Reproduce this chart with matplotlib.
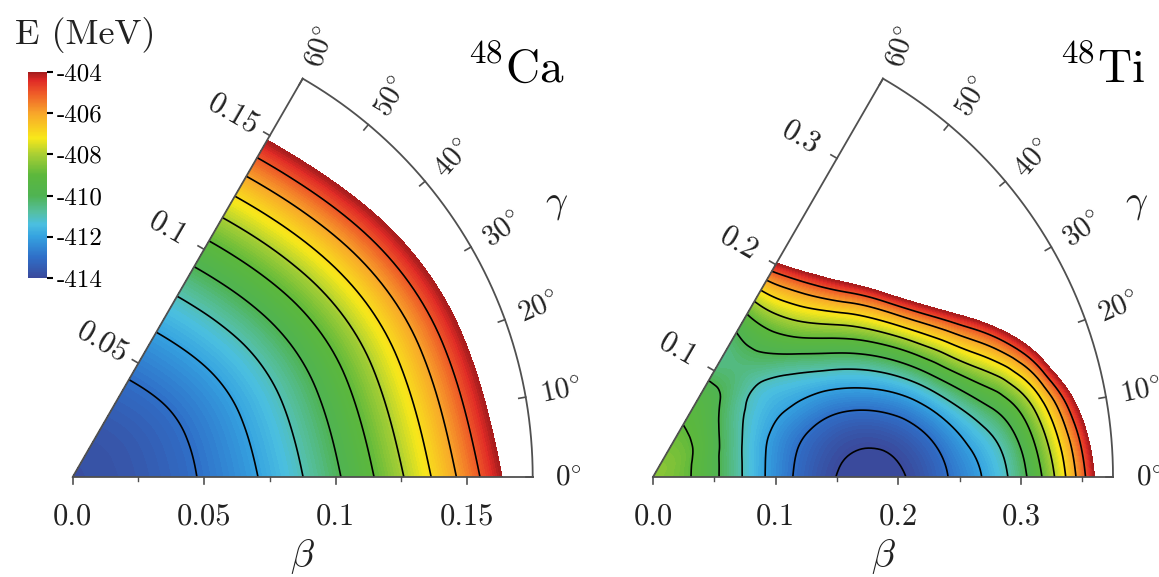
import numpy as np
import matplotlib.pyplot as plt
from matplotlib.colors import LinearSegmentedColormap, Normalize
from matplotlib.cm import ScalarMappable
from matplotlib.tri import Triangulation, UniformTriRefiner, CubicTriInterpolator

plt.rcParams['mathtext.fontset'] = 'cm'

# energy surfaces E(beta, gamma) in MeV, one row per gamma
ca_beta = [0.025, 0.05, 0.075, 0.1, 0.125, 0.15, 0.175]
ca_gamma = [0, 20, 40, 60]
ca_e0 = -413.82
ca_energy = [
    [-413.59, -412.90, -411.76, -410.15, -408.09, -405.56, -402.58],
    [-413.57, -412.84, -411.60, -409.88, -407.66, -404.96, -401.75],
    [-413.56, -412.77, -411.45, -409.61, -407.24, -404.35, -400.93],
    [-413.54, -412.70, -411.30, -409.34, -406.82, -403.74, -400.10],
]

ti_beta = [0.04, 0.08, 0.12, 0.16, 0.20, 0.24, 0.28, 0.32, 0.36, 0.40]
ti_gamma = [0, 10, 20, 30, 40, 50, 60]
ti_e0 = -408.5
ti_energy = [
    [-409.35, -411.40, -413.22, -414.16, -414.11, -413.02, -411.48, -408.73, -404.00, -398.0],
    [-409.32, -411.34, -413.03, -413.82, -413.59, -412.27, -410.42, -407.59, -402.50, -396.5],
    [-409.23, -411.14, -412.50, -412.87, -412.14, -410.16, -407.46, -404.12, -398.00, -393.0],
    [-409.08, -410.81, -411.77, -411.42, -409.99, -407.11, -403.15, -398.50, -394.00, -390.0],
    [-408.96, -410.38, -411.08, -409.82, -407.55, -403.60, -398.10, -394.00, -390.00, -387.0],
    [-408.89, -409.86, -410.39, -408.63, -405.46, -400.70, -396.00, -392.00, -389.00, -386.0],
    [-408.85, -409.65, -410.50, -408.47, -404.20, -399.00, -395.00, -391.00, -388.00, -385.0],
]

cbar_ticks = [-414, -412, -410, -408, -406, -404]

cmap = LinearSegmentedColormap.from_list('surface', [
    (0.00, '#3a4a9c'), (0.10, '#2f6fc8'), (0.20, '#35a2e0'), (0.26, '#4bbfe0'),
    (0.32, '#55bfa0'), (0.40, '#4fb352'), (0.50, '#5cb83c'), (0.60, '#a9cf34'),
    (0.68, '#f8e81a'), (0.80, '#f8a62a'), (0.90, '#ee5a28'), (0.96, '#e02a26'),
    (1.00, '#a51d1d')])
norm = Normalize(-414, -404)
fill_levels = np.linspace(-414, -404, 101)
line_levels = np.arange(-414, -404)

W, H = 1159, 577
EDGE = '#505050'
TXT = '#222222'
R_PX = 460.0


def wedge_field(beta, gamma, e0, energy):
    b, g = np.meshgrid(beta, np.radians(gamma))
    x = np.concatenate([[0.0], (b * np.cos(g)).ravel()])
    y = np.concatenate([[0.0], (b * np.sin(g)).ravel()])
    z = np.concatenate([[e0], np.ravel(energy)])
    tri = Triangulation(x, y)
    interp = CubicTriInterpolator(tri, z, kind='min_E')
    return UniformTriRefiner(tri).refine_field(z, triinterpolator=interp, subdiv=4)


def draw_panel(ax, field, rmax, major, major_lbl, minor, edge_major, edge_lbl, name):
    px = rmax / R_PX
    tri_f, e_f = field
    ax.tricontourf(tri_f, e_f, levels=fill_levels, cmap=cmap, norm=norm, extend='min')
    ax.tricontour(tri_f, e_f, levels=line_levels, colors='k', linewidths=1.2,
                  linestyles='solid')

    # wedge outline
    t = np.radians(np.linspace(0, 60, 200))
    ax.plot(rmax * np.cos(t), rmax * np.sin(t), color=EDGE, lw=1.3)
    ax.plot([0, rmax], [0, 0], color=EDGE, lw=1.3)
    u = np.array([np.cos(np.pi / 3), np.sin(np.pi / 3)])
    n = np.array([-np.sin(np.pi / 3), np.cos(np.pi / 3)])
    ax.plot([0, rmax * u[0]], [0, rmax * u[1]], color=EDGE, lw=1.3)

    # beta axis along gamma = 0
    for v, lbl in zip(major, major_lbl):
        ax.plot([v, v], [0, -7 * px], color=EDGE, lw=1.2)
        ax.text(v, -40 * px, lbl, ha='center', va='center', fontsize=22,
                family='cmr10', color=TXT)
    for v in minor:
        ax.plot([v, v], [0, -4 * px], color=EDGE, lw=1.0)
    ax.text(rmax / 2, -80 * px, r'$\beta$', ha='center', va='center', fontsize=28, color=TXT)

    # beta axis along gamma = 60
    for v, lbl in zip(edge_major, edge_lbl):
        p = v * u
        q = p + 7 * px * n
        ax.plot([p[0], q[0]], [p[1], q[1]], color=EDGE, lw=1.2)
        c = p + 42 * px * n
        ax.text(c[0], c[1], lbl, ha='center', va='center', fontsize=22,
                family='cmr10', rotation=-30, color=TXT)

    # gamma ticks on the arc
    for a in range(0, 61, 10):
        ar = np.radians(a)
        d = np.array([np.cos(ar), np.sin(ar)])
        p0 = rmax * d
        p1 = (rmax - 7 * px) * d
        ax.plot([p0[0], p1[0]], [p0[1], p1[1]], color=EDGE, lw=1.2)
        c = (rmax + 36 * px) * d
        ax.text(c[0], c[1], r'$%d^{\circ}$' % a, ha='center', va='center',
                fontsize=21, rotation=a * 1.2, color=TXT)
    g = np.radians(29.5)
    ax.text((rmax + 96 * px) * np.cos(g), (rmax + 96 * px) * np.sin(g), r'$\gamma$',
            ha='center', va='center', fontsize=28, color=TXT)

    ax.text(492 * px, 395 * px, name, ha='right', va='baseline', fontsize=34, color='k')


fig = plt.figure(figsize=(W / 100, H / 100), dpi=100)

# 48Ca panel, origin at (72.7, 477) px
ax1 = fig.add_axes([0, 0, 580 / W, 1])
s1 = R_PX / 0.175
ax1.set_xlim(-72.7 / s1, (580 - 72.7) / s1)
ax1.set_ylim(-100 / s1, 477 / s1)
ax1.axis('off')
draw_panel(ax1, wedge_field(ca_beta, ca_gamma, ca_e0, ca_energy), 0.175,
           [0.0, 0.05, 0.1, 0.15], ['0.0', '0.05', '0.1', '0.15'],
           [0.025, 0.075, 0.125],
           [0.05, 0.1, 0.15], ['0.05', '0.1', '0.15'], r'$^{48}\mathrm{Ca}$')

# 48Ti panel, origin at (653, 477) px
ax2 = fig.add_axes([580 / W, 0, 579 / W, 1])
s2 = R_PX / 0.375
ax2.set_xlim(-(653 - 580) / s2, (1159 - 653) / s2)
ax2.set_ylim(-100 / s2, 477 / s2)
ax2.axis('off')
draw_panel(ax2, wedge_field(ti_beta, ti_gamma, ti_e0, ti_energy), 0.375,
           [0.0, 0.1, 0.2, 0.3], ['0.0', '0.1', '0.2', '0.3'],
           [0.05, 0.15, 0.25, 0.35],
           [0.1, 0.2, 0.3], ['0.1', '0.2', '0.3'], r'$^{48}\mathrm{Ti}$')

# colour bar
cax = fig.add_axes([28 / W, 1 - 278 / H, 19 / W, 206 / H])
cb = fig.colorbar(ScalarMappable(norm=norm, cmap=cmap), cax=cax, ticks=cbar_ticks)
cb.outline.set_visible(False)
cb.ax.set_yticklabels([str(v) for v in cbar_ticks], family='cmr10', fontsize=18, color=TXT)
cb.ax.tick_params(length=4, width=1.5, pad=3, colors='k')
fig.text(15 / W, 1 - 35 / H, 'E (MeV)', ha='left', va='center', fontsize=26,
         family='cmr10', color=TXT)

fig.savefig('out.png', dpi=100)
